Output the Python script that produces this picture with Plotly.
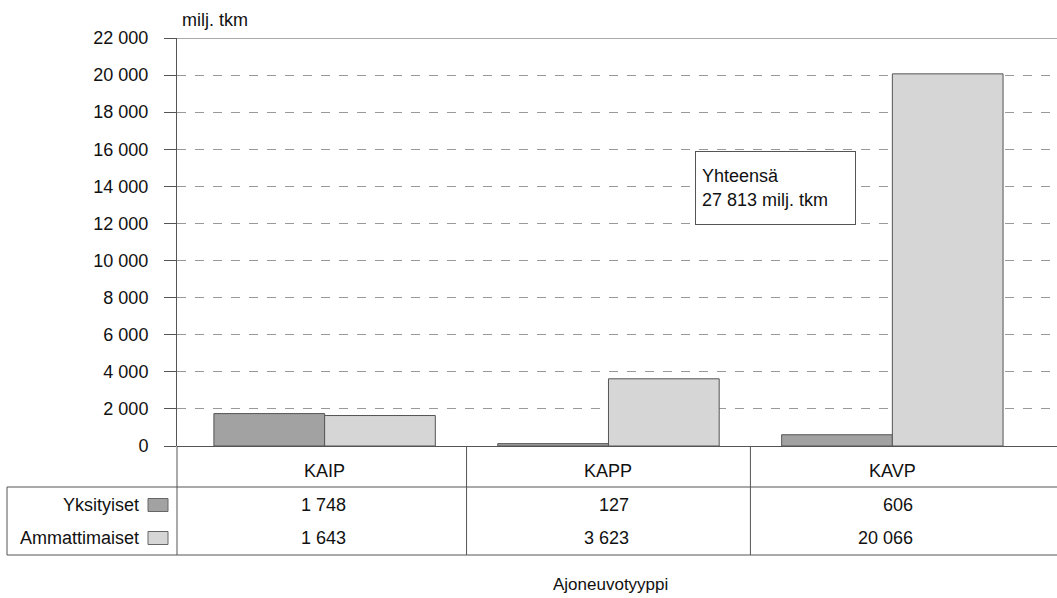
import plotly.graph_objects as go

categories = ["KAIP", "KAPP", "KAVP"]
series_names = ["Yksityiset", "Ammattimaiset"]
yksityiset = [1748, 127, 606]
ammattimaiset = [1643, 3623, 20066]
value_labels = [["1 748", "127", "606"], ["1 643", "3 623", "20 066"]]
y_ticks = list(range(0, 22001, 2000))
y_tick_labels = ["0" if v == 0 else f"{v:,}".replace(",", " ") for v in y_ticks]
total_text = "Yhteensä<br>27 813 milj. tkm"
unit_text = "milj. tkm"
x_title = "Ajoneuvotyyppi"

FONT = "Liberation Sans, Arial, sans-serif"
FS = 18
DARK = "#a2a2a2"
LIGHT = "#d6d6d6"
TXT = "#111111"
LINE = "#555555"

W, H = 1057, 598
ML, MR, MT, MB = 177, 0, 38, 152
PH = H - MT - MB
PW = W - ML - MR

def py(p):  # pixel y -> paper y
    return (H - MB - p) / PH

def px(p):  # pixel x -> paper x
    return (p - ML) / PW

fig = go.Figure()
colors = [DARK, LIGHT]
for name, vals, c in zip(series_names, [yksityiset, ammattimaiset], colors):
    fig.add_trace(go.Bar(x=categories, y=vals, name=name,
                         marker=dict(color=c, line=dict(color="#555555", width=1)),
                         showlegend=False, hoverinfo="skip"))

shapes = []
annotations = []

# solid top line at 22000
shapes.append(dict(type="line", xref="paper", yref="y", x0=px(165), x1=1, y0=22000, y1=22000,
                   line=dict(color=LINE, width=1)))
# table horizontal lines
for p in (487, 555):
    shapes.append(dict(type="line", xref="paper", yref="paper", x0=px(7), x1=1, y0=py(p), y1=py(p),
                       line=dict(color=LINE, width=1)))
# left border of legend column
shapes.append(dict(type="line", xref="paper", yref="paper", x0=px(7), x1=px(7), y0=py(487), y1=py(555),
                   line=dict(color=LINE, width=1)))
# vertical lines: axis continuation and dividers
shapes.append(dict(type="line", xref="paper", yref="paper", x0=0, x1=0, y0=0, y1=py(555),
                   line=dict(color=LINE, width=1)))
for d in (0.5, 1.5):
    shapes.append(dict(type="line", xref="x", yref="paper", x0=d, x1=d, y0=0, y1=py(555),
                       line=dict(color=LINE, width=1)))

# category labels in header row
for i, cat in enumerate(categories):
    annotations.append(dict(x=i, y=py(471), xref="x", yref="paper", text=cat, showarrow=False,
                            font=dict(family=FONT, size=FS, color=TXT), xanchor="center", yanchor="middle"))
# values
row_y = [py(505), py(538)]
for r in range(2):
    for i in range(len(categories)):
        annotations.append(dict(x=i, y=row_y[r], xref="x", yref="paper", text=value_labels[r][i],
                                showarrow=False, xshift=23, xanchor="right", yanchor="middle",
                                font=dict(family=FONT, size=FS, color=TXT)))
    # legend labels
    annotations.append(dict(x=px(141), y=row_y[r], xref="paper", yref="paper", text=series_names[r],
                            showarrow=False, xanchor="right", yanchor="middle",
                            font=dict(family=FONT, size=FS, color=TXT)))
    shapes.append(dict(type="rect", xref="paper", yref="paper", x0=px(148), x1=px(168),
                       y0=row_y[r] - 6.5 / PH, y1=row_y[r] + 6.5 / PH,
                       fillcolor=colors[r], line=dict(color="#666666", width=1)))

# unit label
annotations.append(dict(x=px(180), y=py(20), xref="paper", yref="paper", text=unit_text, showarrow=False,
                        xanchor="left", yanchor="middle", font=dict(family=FONT, size=18, color=TXT)))
# x title
annotations.append(dict(x=px(610), y=py(584), xref="paper", yref="paper", text=x_title, showarrow=False,
                        xanchor="center", yanchor="middle", font=dict(family=FONT, size=17, color=TXT)))
# total box
annotations.append(dict(x=px(775.5), y=py(188), xref="paper", yref="paper", text=total_text, showarrow=False,
                        xanchor="center", yanchor="middle", align="left", width=147, height=60,
                        bordercolor=LINE, borderwidth=1, borderpad=6, bgcolor="white",
                        font=dict(family=FONT, size=FS, color=TXT)))

fig.update_layout(
    width=W, height=H,
    margin=dict(l=ML, r=MR, t=MT, b=MB),
    paper_bgcolor="white", plot_bgcolor="white",
    barmode="group", bargap=0.22, bargroupgap=0,
    font=dict(family=FONT, size=FS, color=TXT),
    shapes=shapes, annotations=annotations,
    xaxis=dict(type="category", range=[-0.52, 2.58], showticklabels=False, ticks="",
               showgrid=False, showline=False, zeroline=False),
    yaxis=dict(range=[0, 22000], tickvals=y_ticks, ticktext=y_tick_labels,
               ticks="outside", ticklen=12, tickcolor=LINE, ticklabelstandoff=12,
               showline=True, linecolor=LINE, linewidth=1,
               showgrid=True, gridcolor="#999999", griddash="dash", gridwidth=1,
               zeroline=True, zerolinecolor=LINE, zerolinewidth=1,
               tickfont=dict(family=FONT, size=FS, color=TXT)),
)

fig.write_html("out.html", config={"displayModeBar": False},
               post_script="document.body.style.margin='0';document.body.style.padding='0';")
